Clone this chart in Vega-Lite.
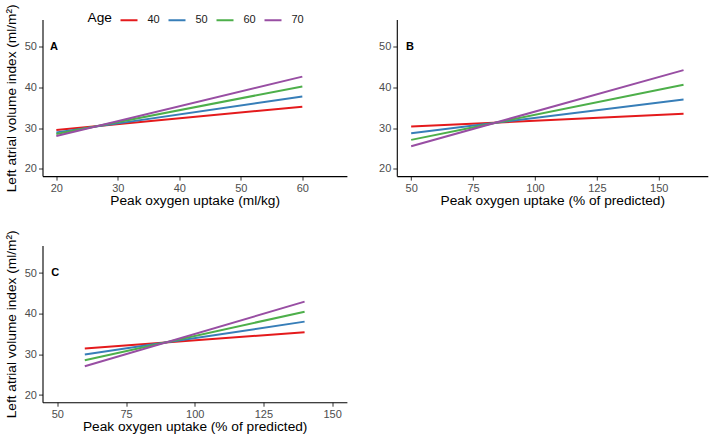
{
  "$schema": "https://vega.github.io/schema/vega-lite/v6.json",
  "padding": {"left": 3.5, "top": 3.5, "right": 0, "bottom": 0},
  "background": "white",
  "config": {
    "font": "Liberation Sans",
    "view": {"stroke": null},
    "axis": {
      "grid": false,
      "domainColor": "#000000",
      "domainWidth": 1.1,
      "tickColor": "#333333",
      "tickSize": 4,
      "tickWidth": 1,
      "labelColor": "#4d4d4d",
      "labelFontSize": 11,
      "labelPadding": 2,
      "titleFontSize": 13.7,
      "titleFontWeight": "normal",
      "titleColor": "#000000"
    },
    "axisX": {"titlePadding": 0},
    "axisY": {"titlePadding": 6},
    "text": {"font": "Liberation Sans"}
  },
  "datasets": {
    "lines": [
      {"panel": "A", "Age": "40", "x": 20, "y": 29.6},
      {"panel": "A", "Age": "40", "x": 60, "y": 35.3},
      {"panel": "A", "Age": "50", "x": 20, "y": 29.0},
      {"panel": "A", "Age": "50", "x": 60, "y": 37.8},
      {"panel": "A", "Age": "60", "x": 20, "y": 28.6},
      {"panel": "A", "Age": "60", "x": 60, "y": 40.3},
      {"panel": "A", "Age": "70", "x": 20, "y": 28.1},
      {"panel": "A", "Age": "70", "x": 60, "y": 42.7},
      {"panel": "B", "Age": "40", "x": 50, "y": 30.44},
      {"panel": "B", "Age": "40", "x": 160, "y": 33.57},
      {"panel": "B", "Age": "50", "x": 50, "y": 28.8},
      {"panel": "B", "Age": "50", "x": 160, "y": 37.1},
      {"panel": "B", "Age": "60", "x": 50, "y": 27.16},
      {"panel": "B", "Age": "60", "x": 160, "y": 40.7},
      {"panel": "B", "Age": "70", "x": 50, "y": 25.6},
      {"panel": "B", "Age": "70", "x": 160, "y": 44.3},
      {"panel": "C", "Age": "40", "x": 60, "y": 31.44},
      {"panel": "C", "Age": "40", "x": 140, "y": 35.45},
      {"panel": "C", "Age": "50", "x": 60, "y": 29.97},
      {"panel": "C", "Age": "50", "x": 140, "y": 38.06},
      {"panel": "C", "Age": "60", "x": 60, "y": 28.58},
      {"panel": "C", "Age": "60", "x": 140, "y": 40.5},
      {"panel": "C", "Age": "70", "x": 60, "y": 27.1},
      {"panel": "C", "Age": "70", "x": 140, "y": 42.97}
    ],
    "labels": [
      {"panel": "A", "label": "A", "x": 19.6, "y": 50},
      {"panel": "B", "label": "B", "x": 49.5, "y": 50},
      {"panel": "C", "label": "C", "x": 49.2, "y": 50}
    ]
  },
  "resolve": {"scale": {"color": "independent", "x": "independent", "y": "independent"}},
  "bounds": "flush",
  "columns": 2,
  "spacing": {"row": 69.1, "column": 49.3},
  "concat": [
    {
      "width": 304.4,
      "height": 156.6,
      "layer": [
        {
          "data": {"name": "lines"},
          "transform": [{"filter": "datum.panel === 'A'"}],
          "mark": {"type": "line", "strokeWidth": 2},
          "encoding": {
            "x": {"field": "x", "type": "quantitative", "scale": {"domain": [17.75, 67.25], "nice": false, "zero": false},
                  "axis": {"values": [20, 30, 40, 50, 60], "title": "Peak oxygen uptake (ml/kg)"}},
            "y": {"field": "y", "type": "quantitative", "scale": {"domain": [18.25, 56.75], "nice": false, "zero": false},
                  "axis": {"values": [20, 30, 40, 50], "title": "Left atrial volume index (ml/m²)"}},
            "color": {"field": "Age", "type": "nominal",
                      "scale": {"domain": ["40", "50", "60", "70"], "range": ["#E41A1C", "#377EB8", "#4DAF4A", "#984EA3"]},
                      "legend": {"orient": "none", "legendX": 45, "legendY": -9, "direction": "horizontal", "titleOrient": "left",
                                 "symbolType": "stroke", "symbolSize": 289, "symbolStrokeWidth": 2,
                                 "labelFontSize": 11, "labelColor": "#1a1a1a", "titleFontSize": 13.7, "titleFontWeight": "normal",
                                 "titleColor": "#000000", "labelOffset": 9, "columnPadding": 4, "titlePadding": 7}}
          }
        },
        {
          "data": {"name": "labels"},
          "transform": [{"filter": "datum.panel === 'A'"}],
          "mark": {"type": "text", "fontWeight": "bold", "fontSize": 11, "color": "#000000", "align": "center", "baseline": "middle"},
          "encoding": {
            "x": {"field": "x", "type": "quantitative"},
            "y": {"field": "y", "type": "quantitative"},
            "text": {"field": "label"}
          }
        }
      ]
    },
    {
      "width": 311,
      "height": 156.6,
      "layer": [
        {
          "data": {"name": "lines"},
          "transform": [{"filter": "datum.panel === 'B'"}],
          "mark": {"type": "line", "strokeWidth": 2},
          "encoding": {
            "x": {"field": "x", "type": "quantitative", "scale": {"domain": [44.2, 169.8], "nice": false, "zero": false},
                  "axis": {"values": [50, 75, 100, 125, 150], "title": "Peak oxygen uptake (% of predicted)"}},
            "y": {"field": "y", "type": "quantitative", "scale": {"domain": [18.25, 56.75], "nice": false, "zero": false},
                  "axis": {"values": [20, 30, 40, 50], "title": null}},
            "color": {"field": "Age", "type": "nominal",
                      "scale": {"domain": ["40", "50", "60", "70"], "range": ["#E41A1C", "#377EB8", "#4DAF4A", "#984EA3"]},
                      "legend": null}
          }
        },
        {
          "data": {"name": "labels"},
          "transform": [{"filter": "datum.panel === 'B'"}],
          "mark": {"type": "text", "fontWeight": "bold", "fontSize": 11, "color": "#000000", "align": "center", "baseline": "middle"},
          "encoding": {
            "x": {"field": "x", "type": "quantitative"},
            "y": {"field": "y", "type": "quantitative"},
            "text": {"field": "label"}
          }
        }
      ]
    },
    {
      "width": 304.4,
      "height": 156.6,
      "layer": [
        {
          "data": {"name": "lines"},
          "transform": [{"filter": "datum.panel === 'C'"}],
          "mark": {"type": "line", "strokeWidth": 2},
          "encoding": {
            "x": {"field": "x", "type": "quantitative", "scale": {"domain": [44.6, 155.4], "nice": false, "zero": false},
                  "axis": {"values": [50, 75, 100, 125, 150], "title": "Peak oxygen uptake (% of predicted)"}},
            "y": {"field": "y", "type": "quantitative", "scale": {"domain": [18.25, 56.75], "nice": false, "zero": false},
                  "axis": {"values": [20, 30, 40, 50], "title": "Left atrial volume index (ml/m²)"}},
            "color": {"field": "Age", "type": "nominal",
                      "scale": {"domain": ["40", "50", "60", "70"], "range": ["#E41A1C", "#377EB8", "#4DAF4A", "#984EA3"]},
                      "legend": null}
          }
        },
        {
          "data": {"name": "labels"},
          "transform": [{"filter": "datum.panel === 'C'"}],
          "mark": {"type": "text", "fontWeight": "bold", "fontSize": 11, "color": "#000000", "align": "center", "baseline": "middle"},
          "encoding": {
            "x": {"field": "x", "type": "quantitative"},
            "y": {"field": "y", "type": "quantitative"},
            "text": {"field": "label"}
          }
        }
      ]
    }
  ]
}
